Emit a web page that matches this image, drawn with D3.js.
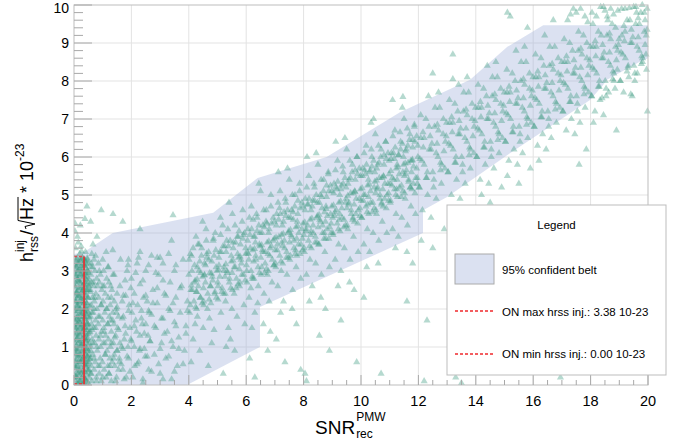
<!DOCTYPE html>
<html><head><meta charset="utf-8">
<script src="https://cdn.jsdelivr.net/npm/d3@7"></script>
<style>body{margin:0;background:#fff}svg{display:block}text{font-family:"Liberation Sans",Arial,Helvetica,sans-serif;fill:#000}</style>
</head><body><svg id="c" width="682" height="440"></svg>
<script>
// ---- data ----
const xTicks = [0,2,4,6,8,10,12,14,16,18,20];
const yTicks = [0,1,2,3,4,5,6,7,8,9,10];
const belt = [[0,0],[0,3.45],[0.35,3.5],[0.75,3.7],[1.35,4.0],[4.85,4.53],[6.4,5.45],[8.8,6.0],[11.36,7.18],[13.8,8.03],[15.1,8.9],[16.35,9.47],[20,9.47],[20,8.6],[19.7,8.5],[18.57,8.03],[18.43,7.89],[17.98,7.5],[15.19,6.1],[13.0,4.95],[12.16,4.6],[12.16,4.0],[6.48,2.05],[6.48,1.0],[3.94,0]];
const onMax = 3.38, onMin = 0.0, onCut = 0.35;
const legendLabels = ["95% confident belt","ON max hrss inj.: 3.38 10-23","ON min hrss inj.: 0.00 10-23"];

const ptsColumn = [[0.05,0.2],[0.12,0.5],[0.2,0.1],[0.3,0.35],[0.4,0.15],[0.48,0.4],[0.08,0.8],[0.18,0.65],[0.27,0.9],[0.36,0.7],[0.45,0.95],[0.52,0.6],
[0.03,1.1],[0.14,1.25],[0.22,1.05],[0.33,1.3],[0.41,1.15],[0.5,1.35],[0.07,1.5],[0.16,1.7],[0.26,1.55],[0.35,1.8],[0.44,1.6],[0.53,1.75],
[0.04,1.95],[0.13,2.1],[0.21,1.9],[0.31,2.2],[0.39,2.05],[0.49,2.3],[0.09,2.4],[0.19,2.55],[0.28,2.45],[0.37,2.7],[0.46,2.5],[0.55,2.65],
[0.06,2.85],[0.15,3.0],[0.24,2.9],[0.34,3.15],[0.42,2.95],[0.1,3.3],[0.2,3.45],[0.3,3.35],[0.4,3.5],[0.05,3.6],[0.15,3.75],[0.25,3.65],
[0.1,0.05],[0.25,0.6],[0.35,0.05],[0.02,0.45],[0.42,0.55],[0.15,0.3],[0.29,0.2],[0.47,0.75],[0.11,0.95],[0.23,0.78],[0.38,0.85],[0.05,0.65],
[0.19,1.15],[0.28,1.4],[0.46,1.2],[0.09,1.35],[0.37,1.5],[0.24,1.8],[0.01,1.72],[0.43,1.85],[0.12,1.6],[0.32,1.62],[0.51,1.5],[0.2,2.0],
[0.35,1.98],[0.07,2.2],[0.27,2.3],[0.45,2.15],[0.16,2.35],[0.02,2.6],[0.33,2.55],[0.24,2.68],[0.42,2.8],[0.12,2.75],[0.5,2.95],[0.29,3.05],
[0.08,3.1],[0.38,3.25],[0.18,3.2],[0.47,3.3],[0.26,3.52],[0.12,3.9],[0.22,4.2],[0.03,4.05],[0.03,4.26],[0.38,4.37],[0.45,4.7],
[0.14,0.05],[0.31,0.05],[0.5,0.05],[0.04,0.12],[0.23,0.12],[0.41,0.12],[0.11,0.19],[0.36,0.19],[0.54,0.19],[0.02,0.26],[0.19,0.26],[0.45,0.26],
[0.09,0.33],[0.27,0.33],[0.38,0.33],[0.16,0.4],[0.33,0.4],[0.52,0.4],[0.06,0.47],[0.24,0.47],[0.43,0.47],[0.13,0.54],[0.35,0.54],[0.49,0.54],
[0.03,0.61],[0.21,0.61],[0.4,0.61],[0.1,0.68],[0.29,0.68],[0.55,0.68],[0.17,0.75],[0.34,0.75],[0.46,0.75],[0.05,0.82],[0.22,0.82],[0.39,0.82],
[0.12,0.89],[0.31,0.89],[0.51,0.89],[0.02,0.96],[0.19,0.96],[0.44,0.96],[0.08,1.03],[0.27,1.03],[0.36,1.03],[0.15,1.1],[0.32,1.1],[0.53,1.1],
[0.04,1.17],[0.25,1.17],[0.42,1.17],[0.11,1.24],[0.37,1.24],[0.48,1.24],[0.01,1.31],[0.2,1.31],[0.4,1.31],[0.09,1.38],[0.28,1.38],[0.54,1.38],
[0.16,1.45],[0.35,1.45],[0.45,1.45],[0.05,1.52],[0.23,1.52],[0.38,1.52],[0.13,1.59],[0.3,1.59],[0.5,1.59],[0.03,1.66],[0.19,1.66],[0.43,1.66],
[0.1,1.73],[0.26,1.73],[0.36,1.73],[0.14,1.8],[0.33,1.8],[0.52,1.8],[0.06,1.87],[0.24,1.87],[0.41,1.87],[0.12,1.94],[0.36,1.94],[0.47,1.94],
[0.02,2.01],[0.21,2.01],[0.39,2.01],[0.09,2.08],[0.29,2.08],[0.55,2.08],[0.17,2.15],[0.34,2.15],[0.44,2.15],[0.05,2.22],[0.22,2.22],[0.37,2.22],
[0.11,2.29],[0.31,2.29],[0.49,2.29],[0.03,2.36],[0.18,2.36],[0.42,2.36],[0.08,2.43],[0.27,2.43],[0.35,2.43],[0.15,2.5],[0.32,2.5],[0.51,2.5],
[0.04,2.57],[0.25,2.57],[0.4,2.57],[0.1,2.64],[0.36,2.64],[0.47,2.64],[0.01,2.71],[0.2,2.71],[0.38,2.71],[0.13,2.78],[0.28,2.78],[0.53,2.78],
[0.16,2.85],[0.35,2.85],[0.45,2.85],[0.06,2.92],[0.23,2.92],[0.39,2.92],[0.12,2.99],[0.3,2.99],[0.48,2.99],[0.03,3.06],[0.19,3.06],[0.42,3.06],
[0.09,3.13],[0.26,3.13],[0.37,3.13],[0.14,3.2],[0.33,3.2],[0.5,3.2],[0.05,3.27],[0.24,3.27],[0.4,3.27],[0.11,3.34],[0.29,3.34],[0.46,3.34],
[0.22,0.08],[0.43,0.09],[0.07,0.22],[0.3,0.23],[0.49,0.36],[0.2,0.37],[0.02,0.5],[0.38,0.51],[0.27,0.64],[0.46,0.65],[0.14,0.78],[0.53,0.79],[0.06,0.92],[0.41,0.93],[0.25,1.06],[0.47,1.07],[0.1,1.2],[0.3,1.21],[0.44,1.34],[0.18,1.35],[0.06,1.48],[0.29,1.49],[0.47,1.62],[0.22,1.63],[0.08,1.76],[0.39,1.77],[0.28,1.9],[0.5,1.91],[0.14,2.04],[0.44,2.05],[0.04,2.18],[0.26,2.19],[0.4,2.32],[0.2,2.33],[0.09,2.46],[0.43,2.47],[0.29,2.6],[0.52,2.61],[0.16,2.74],[0.45,2.75],[0.07,2.88],[0.3,2.89],[0.47,3.02],[0.22,3.03],[0.03,3.16],[0.43,3.17],[0.2,3.3],[0.35,3.31]];

const ptsLow = [[0.6,0.3],[0.7,0.7],[0.65,1.1],[0.75,1.5],[0.62,1.9],[0.72,2.3],[0.68,2.7],[0.6,3.1],[0.78,0.1],[0.8,1.0],[0.85,1.8],[0.82,2.6],[0.9,0.5],[0.92,1.3],[0.95,2.1],[0.88,3.0],[0.58,0.9],[0.63,1.45],[0.7,2.0],[0.57,2.45],[0.75,3.4],[0.66,3.7],[0.8,3.9],[0.58,4.3],
[0.62,0.1],[0.95,0.1],[1.3,0.1],[0.78,0.2],[1.12,0.2],[1.48,0.2],[0.58,0.3],[0.88,0.3],[1.22,0.3],[0.7,0.4],[1.05,0.4],[1.55,0.4],[0.6,0.5],[0.84,0.5],[1.18,0.5],[1.42,0.5],
[0.74,0.6],[0.99,0.6],[1.33,0.6],[0.57,0.7],[0.91,0.7],[1.25,0.7],[1.58,0.7],[0.66,0.8],[1.08,0.8],[1.4,0.8],[0.81,0.9],[1.15,0.9],[1.5,0.9],[0.59,1.0],[0.93,1.0],[1.27,1.0],
[0.72,1.1],[1.02,1.1],[1.37,1.1],[1.6,1.1],[0.63,1.2],[0.87,1.2],[1.2,1.2],[0.77,1.3],[1.1,1.3],[1.45,1.3],[0.56,1.4],[0.96,1.4],[1.3,1.4],[0.69,1.5],[1.04,1.5],[1.52,1.5],
[0.61,1.6],[0.85,1.6],[1.17,1.6],[1.39,1.6],[0.75,1.7],[1.0,1.7],[1.28,1.7],[0.58,1.8],[0.9,1.8],[1.23,1.8],[1.55,1.8],[0.67,1.9],[1.07,1.9],[1.35,1.9],[0.8,2.0],[1.13,2.0],[1.47,2.0],
[0.6,2.1],[0.94,2.1],[1.26,2.1],[0.71,2.2],[1.01,2.2],[1.4,2.2],[0.64,2.3],[0.86,2.3],[1.19,2.3],[0.76,2.4],[1.09,2.4],[1.5,2.4],[0.57,2.5],[0.97,2.5],[1.32,2.5],[0.69,2.6],[1.05,2.6],
[0.62,2.7],[0.88,2.7],[1.22,2.7],[0.79,2.8],[1.14,2.8],[0.59,2.9],[0.92,2.9],[1.36,2.9],[0.73,3.0],[1.03,3.0],[0.65,3.1],[1.18,3.1],[0.6,3.2],[0.85,3.2],[0.7,3.3],[1.0,3.3],[0.62,3.45],
[1.0,0.2],[1.1,0.8],[1.05,1.4],[1.15,2.0],[1.0,2.6],[1.2,3.1],[1.25,0.5],[1.3,1.1],[1.35,1.7],[1.3,2.3],[1.4,2.9],[1.45,0.1],[1.5,0.9],[1.55,1.45],[1.5,2.05],[1.6,2.6],[1.62,3.3],[1.7,0.4],[1.75,1.2],[1.72,1.8],[1.8,2.35],[1.85,3.0],[1.9,0.7],[1.95,1.5],[1.92,2.1],[2.0,2.8],[2.05,0.2],[2.1,1.0],[2.15,1.7],[2.1,2.4],[2.2,3.2],[2.25,0.6],[2.3,1.3],[2.35,1.95],[2.3,2.65],[2.4,0.05],[2.45,0.95],[2.5,1.6],[2.55,2.2],[2.5,3.0],[2.6,0.4],[2.65,1.15],[2.7,1.85],[2.75,2.5],[2.7,3.4],[2.8,0.8],[2.85,1.5],[2.9,2.15],[2.95,2.9],[3.0,0.3],[3.05,1.1],[3.1,1.75],[3.15,2.4],[3.1,3.2],[3.2,0.7],[3.25,1.4],[3.3,2.0],[3.35,2.7],[3.4,0.15],[3.45,1.0],[3.5,1.65],[3.55,2.3],[3.5,3.0],[3.6,0.5],[3.65,1.25],[3.7,1.9],[3.75,2.6],[3.8,3.3],[3.85,0.9],[3.9,1.55],[3.95,2.2],[4.0,2.9],
[1.08,1.1],[1.18,1.6],[1.22,0.3],[1.28,2.6],[1.38,0.7],[1.42,1.25],[1.48,1.9],[1.58,0.6],[1.65,1.0],[1.68,2.2],[1.78,1.55],[1.82,0.2],[1.88,1.0],[1.98,1.2],[2.02,1.9],[2.12,0.5],[2.18,1.4],[2.22,2.1],[2.28,0.9],[2.38,1.6],[2.42,2.3],[2.48,0.75],[2.58,1.3],[2.62,1.9],[1.12,3.5],[1.35,3.55],[1.9,3.3],[2.3,3.5],[2.9,3.35],[3.3,3.45],[1.36,4.5],[0.95,4.6],[1.7,4.3],[2.3,4.1],[3.45,4.47],[3.4,3.8],
[1.75,0.15],[2.4,0.15],[3.1,0.15],[1.95,0.35],[2.7,0.35],[3.5,0.35],[1.65,0.55],[2.2,0.55],[2.95,0.55],[3.8,0.55],[1.85,0.75],[2.55,0.75],[3.3,0.75],[1.7,0.95],[2.3,0.95],[3.0,0.95],[3.65,0.95],
[2.0,1.15],[2.65,1.15],[3.4,1.15],[1.8,1.35],[2.45,1.35],[3.15,1.35],[3.9,1.35],[2.1,1.55],[2.8,1.55],[3.55,1.55],[1.68,1.75],[2.35,1.75],[3.05,1.75],[1.9,1.95],[2.6,1.95],[3.35,1.95],[3.95,1.95],
[2.05,2.15],[2.75,2.15],[3.45,2.15],[1.72,2.35],[2.5,2.35],[3.2,2.35],[1.98,2.55],[2.9,2.55],[3.7,2.55],[1.78,2.75],[2.4,2.75],[3.1,2.75],[2.15,2.95],[2.85,2.95],[1.88,3.15],[2.6,3.15],[3.55,3.15],[2.25,3.35],[3.0,3.35]];

const ptsBand1 = [[4.05,2.1],[4.1,3.4],[4.15,1.2],[4.2,2.7],[4.25,3.9],[4.3,1.8],[4.35,3.0],[4.4,2.3],[4.45,3.6],[4.5,1.5],[4.55,2.9],[4.6,4.1],[4.65,2.0],[4.7,3.3],[4.75,2.6],[4.8,1.1],[4.85,3.8],[4.9,2.4],[4.95,3.1],[4.12,2.5],[4.22,1.6],[4.32,3.7],[4.42,2.95],[4.52,2.2],[4.62,3.45],[4.72,1.75],[4.82,2.85],[4.92,4.0],[4.08,0.6],[4.38,0.9],[4.68,0.5],[4.58,3.15],[4.28,2.45],[4.88,1.45],[4.48,4.3],
[5.02,2.6],[5.08,3.5],[5.12,1.9],[5.18,4.2],[5.22,3.0],[5.28,2.2],[5.32,3.8],[5.38,1.5],[5.42,2.8],[5.48,3.4],[5.52,4.5],[5.58,2.4],[5.62,3.1],[5.68,1.8],[5.72,3.9],[5.78,2.7],[5.82,3.3],[5.88,4.6],[5.92,2.1],[5.98,3.6],[5.05,3.15],[5.15,2.45],[5.25,3.65],[5.35,2.95],[5.45,1.2],[5.55,3.75],[5.65,2.55],[5.75,4.05],[5.85,2.9],[5.95,1.6],[5.1,4.4],[5.3,1.0],[5.5,2.0],[5.7,3.45],[5.9,3.95],[5.4,4.8],[5.6,0.9],[5.2,0.3],
[6.02,3.0],[6.06,4.1],[6.1,2.3],[6.14,3.6],[6.18,4.7],[6.22,2.8],[6.26,3.9],[6.3,1.9],[6.34,3.3],[6.38,4.4],[6.42,2.6],[6.46,3.7],[6.5,5.1],[6.54,3.1],[6.58,4.2],[6.62,2.4],[6.66,3.5],[6.7,4.6],[6.74,2.9],[6.78,4.0],[6.82,3.4],[6.86,5.0],[6.9,2.7],[6.94,3.8],[6.98,4.3],[6.08,3.45],[6.16,2.55],[6.24,4.35],[6.32,3.75],[6.4,2.15],[6.48,4.0],[6.56,3.55],[6.64,2.95],[6.72,4.25],[6.8,2.2],[6.88,3.65],[6.96,3.15],[6.2,1.5],[6.6,1.6],[6.44,5.3],[6.84,1.4],[6.12,0.7],[6.3,0.2],[6.75,0.9],
[7.02,3.2],[7.06,4.5],[7.1,2.6],[7.14,3.9],[7.18,5.1],[7.22,3.0],[7.26,4.2],[7.3,2.2],[7.34,3.6],[7.38,4.8],[7.42,2.9],[7.46,4.0],[7.5,5.4],[7.54,3.4],[7.58,4.6],[7.62,2.5],[7.66,3.8],[7.7,5.0],[7.74,3.1],[7.78,4.3],[7.82,3.7],[7.86,5.3],[7.9,2.8],[7.94,4.1],[7.98,4.7],[7.08,3.55],[7.16,4.65],[7.24,3.75],[7.32,4.55],[7.4,3.35],[7.48,4.4],[7.56,3.95],[7.64,4.35],[7.72,3.55],[7.8,4.85],[7.88,3.45],[7.96,3.85],[7.2,1.9],[7.6,2.0],[7.44,5.7],[7.12,5.6],[7.75,1.6],[7.35,0.6],[7.05,1.2],[7.9,0.4],
[4.03,1.9],[4.18,2.2],[4.07,2.5],[4.22,2.75],[4.11,3.0],[4.01,3.3],[4.15,3.6],[4.24,2.05],[4.09,2.62],[4.2,3.15],[4.05,3.45],
[4.27,2.0],[4.41,2.3],[4.33,2.6],[4.48,2.85],[4.3,3.1],[4.44,3.4],[4.36,3.7],[4.26,2.45],[4.46,2.15],[4.38,3.25],[4.29,2.78],
[4.52,2.1],[4.66,2.4],[4.58,2.7],[4.73,2.95],[4.55,3.2],[4.69,3.5],[4.61,3.8],[4.51,2.55],[4.71,2.25],[4.63,3.35],[4.54,2.88],
[4.77,2.15],[4.91,2.45],[4.83,2.75],[4.98,3.0],[4.8,3.25],[4.94,3.55],[4.86,3.85],[4.76,2.6],[4.96,2.3],[4.88,3.4],[4.79,2.93],
[5.02,2.25],[5.16,2.55],[5.08,2.85],[5.23,3.1],[5.05,3.35],[5.19,3.65],[5.11,3.95],[5.01,2.7],[5.21,2.4],[5.13,3.5],[5.04,3.03],
[5.27,2.4],[5.41,2.7],[5.33,3.0],[5.48,3.25],[5.3,3.5],[5.44,3.8],[5.36,4.1],[5.26,2.85],[5.46,2.55],[5.38,3.65],[5.29,3.18],
[5.52,2.5],[5.66,2.8],[5.58,3.1],[5.73,3.35],[5.55,3.6],[5.69,3.9],[5.61,4.2],[5.51,2.95],[5.71,2.65],[5.63,3.75],[5.54,3.28],
[5.77,2.6],[5.91,2.9],[5.83,3.2],[5.98,3.45],[5.8,3.7],[5.94,4.0],[5.86,4.3],[5.76,3.05],[5.96,2.75],[5.88,3.85],[5.79,3.38],
[6.03,2.7],[6.17,3.0],[6.09,3.3],[6.23,3.55],[6.05,3.8],[6.19,4.1],[6.11,4.4],[6.01,3.15],[6.21,2.85],[6.13,3.95],[6.04,3.48],
[6.27,2.8],[6.41,3.1],[6.33,3.4],[6.48,3.65],[6.3,3.9],[6.44,4.2],[6.36,4.5],[6.26,3.25],[6.46,2.95],[6.38,4.05],[6.29,3.58],
[6.52,2.9],[6.66,3.2],[6.58,3.5],[6.73,3.75],[6.55,4.0],[6.69,4.3],[6.61,4.6],[6.51,3.35],[6.71,3.05],[6.63,4.15],[6.54,3.68],
[6.77,3.0],[6.91,3.3],[6.83,3.6],[6.98,3.85],[6.8,4.1],[6.94,4.4],[6.86,4.7],[6.76,3.45],[6.96,3.15],[6.88,4.25],[6.79,3.78],
[7.03,3.1],[7.17,3.4],[7.09,3.7],[7.23,3.95],[7.05,4.2],[7.19,4.5],[7.11,4.8],[7.01,3.55],[7.21,3.25],[7.13,4.35],[7.04,3.88],
[7.27,3.2],[7.41,3.5],[7.33,3.8],[7.48,4.05],[7.3,4.3],[7.44,4.6],[7.36,4.9],[7.26,3.65],[7.46,3.35],[7.38,4.45],[7.29,3.98],
[7.52,3.3],[7.66,3.6],[7.58,3.9],[7.73,4.15],[7.55,4.4],[7.69,4.7],[7.61,5.0],[7.51,3.75],[7.71,3.45],[7.63,4.55],[7.54,4.08],
[7.77,3.4],[7.91,3.7],[7.83,4.0],[7.98,4.25],[7.8,4.5],[7.94,4.8],[7.86,5.1],[7.76,3.85],[7.96,3.55],[7.88,4.65],[7.79,4.18]];

const ptsBand2 = [[8.02,3.6],[8.06,4.9],[8.1,2.9],[8.14,4.2],[8.18,5.5],[8.22,3.3],[8.26,4.6],[8.3,2.6],[8.34,4.0],[8.38,5.2],[8.42,3.2],[8.46,4.4],[8.5,5.8],[8.54,3.7],[8.58,5.0],[8.62,2.9],[8.66,4.2],[8.7,5.4],[8.74,3.5],[8.78,4.7],[8.82,4.1],[8.86,5.6],[8.9,3.1],[8.94,4.5],[8.98,5.1],[8.08,4.05],[8.16,4.75],[8.24,3.95],[8.32,4.85],[8.4,3.75],[8.48,4.8],[8.56,4.35],[8.64,4.65],[8.72,4.0],[8.8,5.25],[8.88,3.85],[8.96,4.25],[8.2,2.2],[8.6,2.3],[8.44,6.1],[8.12,6.0],[8.76,2.0],[8.05,0.3],[8.1,0.1],[8.55,1.3],[8.9,0.9],
[9.02,4.0],[9.06,5.3],[9.1,3.3],[9.14,4.6],[9.18,5.9],[9.22,3.7],[9.26,5.0],[9.3,3.0],[9.34,4.4],[9.38,5.6],[9.42,3.6],[9.46,4.8],[9.5,6.2],[9.54,4.1],[9.58,5.4],[9.62,3.3],[9.66,4.6],[9.7,5.8],[9.74,3.9],[9.78,5.1],[9.82,4.5],[9.86,6.0],[9.9,3.5],[9.94,4.9],[9.98,5.5],[9.08,4.45],[9.16,5.15],[9.24,4.35],[9.32,5.25],[9.4,4.15],[9.48,5.2],[9.56,4.75],[9.64,5.05],[9.72,4.4],[9.8,5.65],[9.88,4.25],[9.96,4.65],[9.2,2.6],[9.6,2.7],[9.44,6.5],[9.12,6.4],[9.76,2.5],[9.3,1.7],[9.85,0.6],
[10.02,4.4],[10.06,5.7],[10.1,3.7],[10.14,5.0],[10.18,6.3],[10.22,4.1],[10.26,5.4],[10.3,3.5],[10.34,4.8],[10.38,6.0],[10.42,4.0],[10.46,5.2],[10.5,6.6],[10.54,4.5],[10.58,5.8],[10.62,3.8],[10.66,5.0],[10.7,6.2],[10.74,4.3],[10.78,5.5],[10.82,4.9],[10.86,6.4],[10.9,4.0],[10.94,5.3],[10.98,5.9],[10.08,4.85],[10.16,5.55],[10.24,4.75],[10.32,5.65],[10.4,4.55],[10.48,5.6],[10.56,5.15],[10.64,5.45],[10.72,4.8],[10.8,6.05],[10.88,4.65],[10.96,5.05],[10.2,3.1],[10.6,3.2],[10.44,7.0],[10.1,2.3],[10.7,0.3],[10.35,6.9],
[11.02,4.8],[11.06,6.1],[11.1,4.1],[11.14,5.4],[11.18,6.7],[11.22,4.5],[11.26,5.8],[11.3,3.9],[11.34,5.2],[11.38,6.4],[11.42,4.4],[11.46,5.6],[11.5,7.0],[11.54,4.9],[11.58,6.2],[11.62,4.2],[11.66,5.4],[11.7,6.6],[11.74,4.7],[11.78,5.9],[11.82,5.3],[11.86,6.8],[11.9,4.5],[11.94,5.7],[11.98,6.3],[11.08,5.25],[11.16,5.95],[11.24,5.15],[11.32,6.05],[11.4,4.95],[11.48,6.0],[11.56,5.55],[11.64,5.85],[11.72,5.2],[11.8,6.45],[11.88,5.05],[11.96,5.45],[11.2,3.6],[11.6,3.5],[11.44,7.3],[11.1,7.5],[11.8,3.2],[11.6,2.2],[11.46,7.58],
[8.03,3.5],[8.17,3.8],[8.09,4.1],[8.23,4.35],[8.05,4.6],[8.19,4.9],[8.11,5.2],[8.01,3.95],[8.21,3.65],[8.13,4.75],[8.04,4.28],
[8.27,3.6],[8.41,3.9],[8.33,4.2],[8.48,4.45],[8.3,4.7],[8.44,5.0],[8.36,5.3],[8.26,4.05],[8.46,3.75],[8.38,4.85],[8.29,4.38],
[8.52,3.7],[8.66,4.0],[8.58,4.3],[8.73,4.55],[8.55,4.8],[8.69,5.1],[8.61,5.4],[8.51,4.15],[8.71,3.85],[8.63,4.95],[8.54,4.48],
[8.77,3.85],[8.91,4.15],[8.83,4.45],[8.98,4.7],[8.8,4.95],[8.94,5.25],[8.86,5.55],[8.76,4.3],[8.96,4.0],[8.88,5.1],[8.79,4.63],
[9.03,3.95],[9.17,4.25],[9.09,4.55],[9.23,4.8],[9.05,5.05],[9.19,5.35],[9.11,5.65],[9.01,4.4],[9.21,4.1],[9.13,5.2],[9.04,4.73],
[9.27,4.05],[9.41,4.35],[9.33,4.65],[9.48,4.9],[9.3,5.15],[9.44,5.45],[9.36,5.75],[9.26,4.5],[9.46,4.2],[9.38,5.3],[9.29,4.83],
[9.52,4.2],[9.66,4.5],[9.58,4.8],[9.73,5.05],[9.55,5.3],[9.69,5.6],[9.61,5.9],[9.51,4.65],[9.71,4.35],[9.63,5.45],[9.54,4.98],
[9.77,4.3],[9.91,4.6],[9.83,4.9],[9.98,5.15],[9.8,5.4],[9.94,5.7],[9.86,6.0],[9.76,4.75],[9.96,4.45],[9.88,5.55],[9.79,5.08],
[10.03,4.4],[10.17,4.7],[10.09,5.0],[10.23,5.25],[10.05,5.5],[10.19,5.8],[10.11,6.1],[10.01,4.85],[10.21,4.55],[10.13,5.65],[10.04,5.18],
[10.27,4.5],[10.41,4.8],[10.33,5.1],[10.48,5.35],[10.3,5.6],[10.44,5.9],[10.36,6.2],[10.26,4.95],[10.46,4.65],[10.38,5.75],[10.29,5.28],
[10.52,4.6],[10.66,4.9],[10.58,5.2],[10.73,5.45],[10.55,5.7],[10.69,6.0],[10.61,6.3],[10.51,5.05],[10.71,4.75],[10.63,5.85],[10.54,5.38],
[10.77,4.7],[10.91,5.0],[10.83,5.3],[10.98,5.55],[10.8,5.8],[10.94,6.1],[10.86,6.4],[10.76,5.15],[10.96,4.85],[10.88,5.95],[10.79,5.48],
[11.03,4.85],[11.17,5.15],[11.09,5.45],[11.23,5.7],[11.05,5.95],[11.19,6.25],[11.11,6.55],[11.01,5.3],[11.21,5.0],[11.13,6.1],[11.04,5.63],
[11.27,4.95],[11.41,5.25],[11.33,5.55],[11.48,5.8],[11.3,6.05],[11.44,6.35],[11.36,6.65],[11.26,5.4],[11.46,5.1],[11.38,6.2],[11.29,5.73],
[11.52,5.05],[11.66,5.35],[11.58,5.65],[11.73,5.9],[11.55,6.15],[11.69,6.45],[11.61,6.75],[11.51,5.5],[11.71,5.2],[11.63,6.3],[11.54,5.83],
[11.77,5.15],[11.91,5.45],[11.83,5.75],[11.98,6.0],[11.8,6.25],[11.94,6.55],[11.86,6.85],[11.76,5.6],[11.96,5.3],[11.88,6.4],[11.79,5.93]];

const ptsBand3 = [[12.02,5.2],[12.08,6.5],[12.14,4.6],[12.2,5.8],[12.26,7.0],[12.32,5.0],[12.38,6.2],[12.44,4.4],[12.5,5.6],[12.56,6.8],[12.62,4.9],[12.68,6.0],[12.74,7.3],[12.8,5.3],[12.86,6.6],[12.92,5.7],[12.98,6.9],[12.05,5.95],[12.17,6.25],[12.29,5.45],[12.41,6.55],[12.53,5.2],[12.65,6.35],[12.77,5.85],[12.89,6.15],[12.35,7.6],[12.7,7.7],[12.1,3.8],[12.5,3.6],[12.3,1.7],[12.2,0.1],[12.9,4.1],[12.5,8.2],[13.2,8.05],
[13.03,5.6],[13.09,6.9],[13.15,5.0],[13.21,6.2],[13.27,7.4],[13.33,5.4],[13.39,6.6],[13.45,4.9],[13.51,6.0],[13.57,7.2],[13.63,5.3],[13.69,6.4],[13.75,7.7],[13.81,5.7],[13.87,7.0],[13.93,6.1],[13.99,7.3],[13.06,6.35],[13.18,6.65],[13.3,5.85],[13.42,6.95],[13.54,5.6],[13.66,6.75],[13.78,6.25],[13.9,6.55],[13.4,7.9],[13.7,8.1],[13.2,8.7],[13.3,0.2],[13.5,0.05],
[14.03,6.0],[14.09,7.3],[14.15,5.4],[14.21,6.6],[14.27,7.8],[14.33,5.8],[14.39,7.0],[14.45,5.3],[14.51,6.4],[14.57,7.6],[14.63,5.7],[14.69,6.8],[14.75,8.1],[14.81,6.1],[14.87,7.4],[14.93,6.5],[14.99,7.7],[14.06,6.75],[14.18,7.05],[14.3,6.25],[14.42,7.35],[14.54,6.0],[14.66,7.15],[14.78,6.65],[14.9,6.95],[14.4,8.4],[14.7,8.5],[14.2,5.0],[14.5,4.8],[14.9,5.2],
[15.03,6.4],[15.09,7.7],[15.15,5.9],[15.21,7.0],[15.27,8.2],[15.33,6.2],[15.39,7.4],[15.45,5.8],[15.51,6.8],[15.57,8.0],[15.63,6.1],[15.69,7.2],[15.75,8.5],[15.81,6.5],[15.87,7.8],[15.93,6.9],[15.99,8.1],[15.06,7.15],[15.18,7.45],[15.3,6.65],[15.42,7.75],[15.54,6.4],[15.66,7.55],[15.78,7.05],[15.9,7.35],[15.4,8.8],[15.7,8.9],[15.2,9.7],[15.5,5.3],[15.1,5.5],[15.1,9.8],[15.8,9.4],[15.9,5.7],
[12.04,5.2],[12.31,5.6],[12.12,5.9],[12.44,6.2],[12.2,6.5],[12.37,6.8],[12.08,7.1],[12.27,5.45],[12.47,6.35],[12.16,6.65],
[12.54,5.4],[12.81,5.8],[12.62,6.1],[12.94,6.4],[12.7,6.7],[12.87,7.0],[12.58,7.3],[12.77,5.65],[12.97,6.55],[12.66,6.85],
[13.04,5.6],[13.31,6.0],[13.12,6.3],[13.44,6.6],[13.2,6.9],[13.37,7.2],[13.08,7.5],[13.27,5.85],[13.47,6.75],[13.16,7.05],
[13.54,5.8],[13.81,6.2],[13.62,6.5],[13.94,6.8],[13.7,7.1],[13.87,7.4],[13.58,7.7],[13.77,6.05],[13.97,6.95],[13.66,7.25],
[14.04,6.0],[14.31,6.4],[14.12,6.7],[14.44,7.0],[14.2,7.3],[14.37,7.6],[14.08,7.9],[14.27,6.25],[14.47,7.15],[14.16,7.45],
[14.54,6.2],[14.81,6.6],[14.62,6.9],[14.94,7.2],[14.7,7.5],[14.87,7.8],[14.58,8.1],[14.77,6.45],[14.97,7.35],[14.66,7.65],
[15.04,6.4],[15.31,6.8],[15.12,7.1],[15.44,7.4],[15.2,7.7],[15.37,8.0],[15.08,8.3],[15.27,6.65],[15.47,7.55],[15.16,7.85],
[15.54,6.6],[15.81,7.0],[15.62,7.3],[15.94,7.6],[15.7,7.9],[15.87,8.2],[15.58,8.5],[15.77,6.85],[15.97,7.75],[15.66,8.05]];

const ptsBand4 = [[16.03,6.8],[16.09,8.1],[16.15,6.3],[16.21,7.4],[16.27,8.6],[16.33,6.6],[16.39,7.8],[16.45,6.2],[16.51,7.2],[16.57,8.4],[16.63,6.5],[16.69,7.6],[16.75,8.9],[16.81,6.9],[16.87,8.2],[16.93,7.3],[16.99,8.5],[16.06,7.55],[16.18,7.85],[16.3,7.05],[16.42,8.15],[16.54,6.8],[16.66,7.95],[16.78,7.45],[16.9,7.75],[16.4,9.2],[16.7,9.6],[16.95,0.2],[16.2,5.9],
[17.03,7.2],[17.09,8.5],[17.15,6.7],[17.21,7.8],[17.27,9.0],[17.33,7.0],[17.39,8.2],[17.45,6.6],[17.51,7.6],[17.57,8.8],[17.63,6.9],[17.69,8.0],[17.75,9.2],[17.81,7.3],[17.87,8.6],[17.93,7.7],[17.99,8.9],[17.06,7.95],[17.18,8.25],[17.3,7.45],[17.42,8.55],[17.54,7.2],[17.66,8.35],[17.78,7.85],[17.9,8.15],[17.2,9.6],[17.5,9.8],[17.8,9.7],[17.4,9.9],[17.6,5.8],[17.85,6.2],
[18.03,7.6],[18.09,8.9],[18.15,7.2],[18.21,8.2],[18.27,9.3],[18.33,7.5],[18.39,8.6],[18.45,7.1],[18.51,8.0],[18.57,9.2],[18.63,7.7],[18.69,8.4],[18.75,9.5],[18.81,8.0],[18.87,8.9],[18.93,8.3],[18.99,9.1],[18.06,8.35],[18.18,8.65],[18.3,7.85],[18.42,8.95],[18.54,7.6],[18.66,8.75],[18.78,8.25],[18.9,8.55],[18.2,9.7],[18.5,9.85],[18.8,9.75],[18.35,9.95],[18.6,9.6],[18.9,6.7],[18.1,6.9],[18.4,7.55],[18.85,7.8],[19.4,7.65],
[19.03,8.0],[19.09,9.2],[19.15,7.7],[19.21,8.6],[19.27,9.6],[19.33,8.1],[19.39,9.0],[19.45,7.6],[19.51,8.4],[19.57,9.5],[19.63,8.2],[19.69,8.8],[19.75,9.8],[19.81,8.5],[19.87,9.3],[19.93,8.7],[19.97,9.9],[19.06,8.75],[19.18,9.05],[19.3,8.35],[19.42,9.35],[19.54,8.0],[19.66,9.15],[19.78,8.65],[19.9,8.95],[19.2,9.9],[19.5,9.95],[19.8,10.0],[19.95,8.3],[19.98,7.2],
[16.04,6.8],[16.31,7.2],[16.12,7.5],[16.44,7.8],[16.2,8.1],[16.37,8.4],[16.08,8.7],[16.27,7.05],[16.47,7.95],[16.16,8.25],
[16.54,7.0],[16.81,7.4],[16.62,7.7],[16.94,8.0],[16.7,8.3],[16.87,8.6],[16.58,8.9],[16.77,7.25],[16.97,8.15],[16.66,8.45],
[17.04,7.2],[17.31,7.6],[17.12,7.9],[17.44,8.2],[17.2,8.5],[17.37,8.8],[17.08,9.1],[17.27,7.45],[17.47,8.35],[17.16,8.65],
[17.54,7.4],[17.81,7.8],[17.62,8.1],[17.94,8.4],[17.7,8.7],[17.87,9.0],[17.58,9.3],[17.77,7.65],[17.97,8.55],[17.66,8.85],
[18.04,7.6],[18.31,8.0],[18.12,8.3],[18.44,8.6],[18.2,8.9],[18.37,9.2],[18.08,9.5],[18.27,7.85],[18.47,8.75],[18.16,9.05],
[18.54,7.8],[18.81,8.2],[18.62,8.5],[18.94,8.8],[18.7,9.1],[18.87,9.4],[18.58,9.7],[18.77,8.05],[18.97,8.95],[18.66,9.25],
[19.04,8.0],[19.31,8.4],[19.12,8.7],[19.44,9.0],[19.2,9.3],[19.37,9.6],[19.08,9.9],[19.27,8.25],[19.47,9.15],[19.16,9.45],
[19.54,8.2],[19.81,8.6],[19.62,8.9],[19.94,9.2],[19.7,9.5],[19.87,9.8],[19.58,9.95],[19.77,8.45],[19.97,9.35],[19.66,9.65],
[17.3,9.75],[17.65,9.9],[18.05,9.8],[18.45,9.95],[18.95,9.85],[19.35,9.92],[19.6,9.8],[19.9,9.6],[17.9,9.55],[18.7,9.9]];

// ---- drawing ----
const svg = d3.select("#c");
const L=74, R=648, T=5, B=385;
const x = d3.scaleLinear().domain([0,20]).range([L,R]);
const y = d3.scaleLinear().domain([0,10]).range([B,T]);

svg.append("defs").append("clipPath").attr("id","clip").append("rect").attr("x",L).attr("y",T-4).attr("width",R-L+4).attr("height",B-T+4);

// grid
const g = svg.append("g");
g.selectAll(".gx").data(xTicks.slice(1,-1)).join("line").attr("x1",d=>x(d)).attr("x2",d=>x(d)).attr("y1",T).attr("y2",B).attr("stroke","#e3e3e3").attr("stroke-width",1);
g.selectAll(".gy").data(yTicks.slice(1,-1)).join("line").attr("y1",d=>y(d)).attr("y2",d=>y(d)).attr("x1",L).attr("x2",R).attr("stroke","#e3e3e3").attr("stroke-width",1);

// belt
const plot = svg.append("g").attr("clip-path","url(#clip)");
plot.append("path").attr("d", d3.line().x(d=>x(d[0])).y(d=>y(d[1]))(belt)+"Z").attr("fill","#a6b4dc").attr("fill-opacity",0.4);

// points
const allPts = [].concat(ptsColumn, ptsLow, ptsBand1, ptsBand2, ptsBand3, ptsBand4);
const tri = d3.symbol().type(d3.symbolTriangle).size(22);
plot.selectAll(".p").data(allPts).join("path").attr("d",tri).attr("transform",d=>`translate(${x(d[0])},${y(d[1])})`).attr("fill","#3d9a80").attr("fill-opacity",0.38);

// ON lines
const red = "#f0282c";
plot.append("line").attr("x1",x(0)).attr("x2",x(onCut)).attr("y1",y(onMax)).attr("y2",y(onMax)).attr("stroke",red).attr("stroke-width",1.5).attr("stroke-dasharray","3,2");
plot.append("line").attr("x1",x(0)).attr("x2",x(onCut)).attr("y1",y(onMin)-1).attr("y2",y(onMin)-1).attr("stroke",red).attr("stroke-width",1.5).attr("stroke-dasharray","3,2");
plot.append("line").attr("x1",x(onCut)).attr("x2",x(onCut)).attr("y1",y(onMax)).attr("y2",y(onMin)).attr("stroke",red).attr("stroke-width",1.6);

// frame
svg.append("rect").attr("x",L).attr("y",T).attr("width",R-L).attr("height",B-T).attr("fill","none").attr("stroke","#bdbdbd").attr("stroke-width",1);

// ticks
const tk = "#a8a8a8";
const xMinor = d3.range(0,20.01,0.5);
svg.selectAll(".xt").data(xMinor).join("line").attr("x1",d=>x(d)).attr("x2",d=>x(d)).attr("y1",B).attr("y2",d=>B-(Math.abs(d/2-Math.round(d/2))<1e-6?10:5)).attr("stroke",tk);
const yMinor = d3.range(0,10.01,0.2);
svg.selectAll(".yt").data(yMinor).join("line").attr("y1",d=>y(d)).attr("y2",d=>y(d)).attr("x1",L).attr("x2",d=>L+(Math.abs(d-Math.round(d))<1e-6?18:9)).attr("stroke",tk);

// tick labels
svg.selectAll(".xl").data(xTicks).join("text").attr("x",d=>x(d)).attr("y",406).attr("text-anchor","middle").attr("font-size",14.5).text(d=>d);
svg.selectAll(".yl").data(yTicks).join("text").attr("x",69).attr("y",d=>Math.max(y(d)+5,13)).attr("text-anchor","end").attr("font-size",14).text(d=>d);

// x title
const xt = svg.append("g");
const snr = xt.append("text").attr("x",315).attr("y",434).attr("font-size",19).text("SNR");
const sw = snr.node().getComputedTextLength();
xt.append("text").attr("x",315+sw+1).attr("y",421).attr("font-size",12).text("PMW");
xt.append("text").attr("x",315+sw+1).attr("y",438).attr("font-size",12).text("rec");

// y title
const yt = svg.append("g").attr("transform","translate(33,262) rotate(-90)");
let cx = 0;
const fsz = 18, ssz = 12;
function piece(str, size, dy){ const t = yt.append("text").attr("x",cx).attr("y",dy).attr("font-size",size).style("white-space","pre").text(str); return t.node().getComputedTextLength(); }
cx += piece("h", fsz, 0);
const w1 = piece("inj", ssz, -9);
const w2 = piece("rss", ssz, 5);
cx += Math.max(w1,w2) + 1;
cx += piece("/", fsz, 0);
const sx = cx + 1;
const hzT = yt.append("text").attr("x",sx+9).attr("y",0).attr("font-size",fsz).text("Hz");
const hzW = hzT.node().getComputedTextLength();
yt.append("path").attr("d",`M${sx},${-7} L${sx+2.5},${-8} L${sx+5},${2} L${sx+8.5},${-15} L${sx+10+hzW},${-15}`).attr("fill","none").attr("stroke","#000").attr("stroke-width",1);
cx = sx + 10 + hzW + 4;
cx += piece("* 10", fsz, 0);
piece("-23", ssz, -9);

// legend
const lg = svg.append("g");
const lx = 447, ly = 205, lw = 219, lh = 170;
lg.append("rect").attr("x",lx).attr("y",ly).attr("width",lw).attr("height",lh).attr("fill","#fff").attr("stroke","#bdbdbd");
lg.append("text").attr("x",lx+lw/2).attr("y",229).attr("text-anchor","middle").attr("font-size",11.5).text("Legend");
lg.append("rect").attr("x",455).attr("y",254).attr("width",39).attr("height",30).attr("fill","#a6b4dc").attr("fill-opacity",0.4).attr("stroke","#aaa");
lg.selectAll(".ll").data([311,354]).join("line").attr("x1",455).attr("x2",494).attr("y1",d=>d).attr("y2",d=>d).attr("stroke",red).attr("stroke-width",1.3).attr("stroke-dasharray","3,2");
lg.selectAll(".lt").data(legendLabels).join("text").attr("x",502).attr("y",(d,i)=>[274,316,358][i]).attr("font-size",11.5).text(d=>d);
</script></body></html>
